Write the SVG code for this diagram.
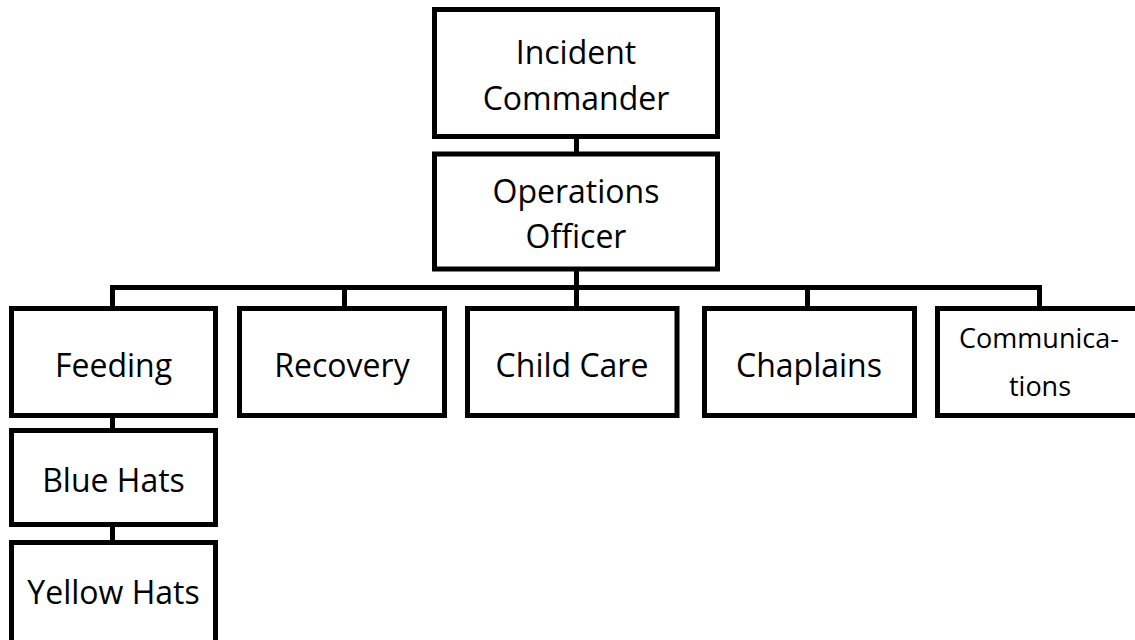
<svg xmlns="http://www.w3.org/2000/svg" width="1135" height="640" viewBox="0 0 1135 640">
<style>
.box{fill:#fff;stroke:#000;stroke-width:5}
.lbl{font-family:"Open Sans","Liberation Sans",sans-serif;font-size:32px;fill:#000;text-anchor:middle}
.sm{font-size:27px}
.con{stroke:#000;stroke-width:5;fill:none}
</style>
<rect width="1135" height="640" fill="#fff"/>
<g id="connectors">
<line class="con" x1="576.5" y1="136.5" x2="576.5" y2="154"/>
<line class="con" x1="576.5" y1="269" x2="576.5" y2="308.5"/>
<line class="con" x1="110" y1="287.5" x2="1042" y2="287.5"/>
<line class="con" x1="112.5" y1="287.5" x2="112.5" y2="308.5"/>
<line class="con" x1="344.5" y1="287.5" x2="344.5" y2="308.5"/>
<line class="con" x1="807.5" y1="287.5" x2="807.5" y2="308.5"/>
<line class="con" x1="1039.5" y1="285" x2="1039.5" y2="308.5"/>
<line class="con" x1="112.5" y1="415.5" x2="112.5" y2="430.5"/>
<line class="con" x1="112.5" y1="524.5" x2="112.5" y2="542.5"/>
</g>
<g id="incident-commander">
<rect class="box" x="434.5" y="9.5" width="283" height="127"/>
<text class="lbl" x="576" y="64">Incident</text>
<text class="lbl" x="576" y="110">Commander</text>
</g>
<g id="operations-officer">
<rect class="box" x="434.5" y="154" width="283" height="115"/>
<text class="lbl" x="576" y="203">Operations</text>
<text class="lbl" x="576" y="248">Officer</text>
</g>
<g id="feeding">
<rect class="box" x="11.5" y="308.5" width="204" height="107"/>
<text class="lbl" x="113.5" y="377">Feeding</text>
</g>
<g id="recovery">
<rect class="box" x="239.5" y="308.5" width="205" height="107"/>
<text class="lbl" x="342" y="377">Recovery</text>
</g>
<g id="child-care">
<rect class="box" x="467.5" y="308.5" width="209.5" height="107"/>
<text class="lbl" x="572" y="377">Child Care</text>
</g>
<g id="chaplains">
<rect class="box" x="704.5" y="308.5" width="210" height="107"/>
<text class="lbl" x="809" y="377">Chaplains</text>
</g>
<g id="communications">
<rect class="box" x="937.5" y="308.5" width="210" height="107"/>
<text class="lbl sm" x="1039" y="348">Communica-</text>
<text class="lbl sm" x="1040" y="396">tions</text>
</g>
<g id="blue-hats">
<rect class="box" x="11.5" y="430.5" width="204" height="94"/>
<text class="lbl" x="113.5" y="492">Blue Hats</text>
</g>
<g id="yellow-hats">
<rect class="box" x="11.5" y="542.5" width="204" height="120"/>
<text class="lbl" x="113.5" y="604">Yellow Hats</text>
</g>
</svg>
